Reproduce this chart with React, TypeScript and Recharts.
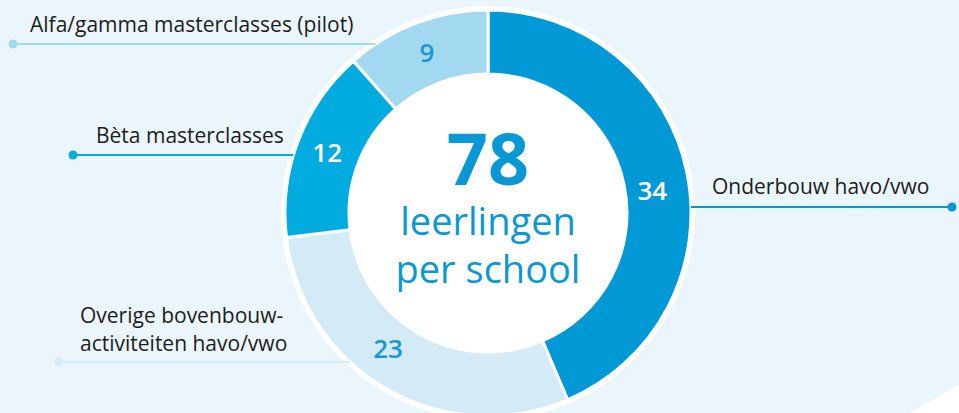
import {Cell, Pie, PieChart} from "recharts";

const CATEGORIES = [
  "Onderbouw havo/vwo",
  "Overige bovenbouw-activiteiten havo/vwo",
  "Bèta masterclasses",
  "Alfa/gamma masterclasses (pilot)",
];
const VALUES = [34, 23, 12, 9];
const LABEL_LINES = [
  ["Onderbouw havo/vwo"],
  ["Overige bovenbouw-", "activiteiten havo/vwo"],
  ["Bèta masterclasses"],
  ["Alfa/gamma masterclasses (pilot)"],
];
const CENTER_LINES = ["leerlingen", "per school"];

const SEGMENT_COLORS = ["#0099d5", "#d3eaf7", "#00abdf", "#a3d8f1"];
const NUMBER_COLORS = ["#ffffff", "#1a98d5", "#ffffff", "#1a98d5"];
const TEXT_COLOR = "#1d1d1b";
const BLUE = "#0a98d4";
const FONT = "'Open Sans', sans-serif";

// callout placement, relative to the pie centre
const CALLOUTS = [
  {lineDy: -6, dotDx: 464, textDx: 224, baselines: [-19], numR: 166, numShift: 3.5},
  {lineDy: 149, dotDx: -429, textDx: -408, baselines: [110, 138], numR: 168, numShift: 6.5},
  {lineDy: -58, dotDx: -415, textDx: -392, baselines: [-70], numR: 172, numShift: 0},
  {lineDy: -169, dotDx: -475, textDx: -458, baselines: [-181], numR: 172, numShift: 0},
];

const data = CATEGORIES.map((name, i) => ({name, value: VALUES[i]}));
const total = VALUES.reduce((a, b) => a + b, 0);

const RAD = Math.PI / 180;
const OUTER = 203;
const INNER = 139;

function renderSegmentLabel(props: any) {
  const {cx, cy, midAngle, index} = props;
  const c = CALLOUTS[index];
  const ang = (midAngle - c.numShift) * RAD;
  const nx = cx + c.numR * Math.cos(ang);
  const ny = cy - c.numR * Math.sin(ang);
  const ly = cy + c.lineDy;
  const half = Math.sqrt(OUTER * OUTER - c.lineDy * c.lineDy);
  const edgeX = c.dotDx > 0 ? cx + half : cx - half;
  return (
    <g key={`lbl-${index}`}>
      <text
        x={nx}
        y={ny}
        textAnchor="middle"
        dominantBaseline="central"
        fill={NUMBER_COLORS[index]}
        fontFamily={FONT}
        fontSize={26}
        fontWeight={600}>
        {VALUES[index]}
      </text>
      <line x1={edgeX} y1={ly} x2={cx + c.dotDx} y2={ly} stroke={SEGMENT_COLORS[index]} strokeWidth={2} />
      <circle cx={cx + c.dotDx} cy={ly} r={4.5} fill={SEGMENT_COLORS[index]} />
      {LABEL_LINES[index].map((t, j) => (
        <text
          key={j}
          x={cx + c.textDx}
          y={cy + c.baselines[j]}
          fill={TEXT_COLOR}
          fontFamily={FONT}
          fontSize={21}>
          {t}
        </text>
      ))}
    </g>
  );
}

function renderCenter(props: any) {
  const {cx, cy} = props;
  return (
    <g key="center">
      <text x={cx} y={cy - 28} textAnchor="middle" fill={BLUE} fontFamily={FONT} fontSize={72} fontWeight={700}>
        {total}
      </text>
      {CENTER_LINES.map((t, i) => (
        <text key={t} x={cx} y={cy + 22 + i * 48} textAnchor="middle" fill={BLUE} fontFamily={FONT} fontSize={38}>
          {t}
        </text>
      ))}
    </g>
  );
}

export default function App() {
  return (
    <div
      style={{
        position: "absolute",
        left: 0,
        top: 0,
        width: 959,
        height: 413,
        background: "#eaf6fc",
        overflow: "hidden",
      }}>
      <div
        style={{
          position: "absolute",
          inset: 0,
          background: "#ffffff",
          clipPath: "polygon(909px 413px, 959px 385px, 959px 413px)",
        }}
      />
      <div style={{position: "absolute", left: 0, top: 0}}>
        <PieChart width={959} height={413} margin={{top: 0, right: 0, bottom: 0, left: 0}}>
          <Pie
            data={[{name: "bg", value: 1}]}
            dataKey="value"
            cx={488}
            cy={213}
            innerRadius={0}
            outerRadius={207}
            fill="#ffffff"
            stroke="none"
            label={renderCenter}
            labelLine={false}
            isAnimationActive={false}
          />
          <Pie
            data={data}
            dataKey="value"
            nameKey="name"
            cx={488}
            cy={213}
            innerRadius={INNER}
            outerRadius={OUTER}
            startAngle={90}
            endAngle={-270}
            stroke="#ffffff"
            strokeWidth={3}
            label={renderSegmentLabel}
            labelLine={false}
            isAnimationActive={false}>
            {data.map((d, i) => (
              <Cell key={d.name} fill={SEGMENT_COLORS[i]} />
            ))}
          </Pie>
        </PieChart>
      </div>
    </div>
  );
}
